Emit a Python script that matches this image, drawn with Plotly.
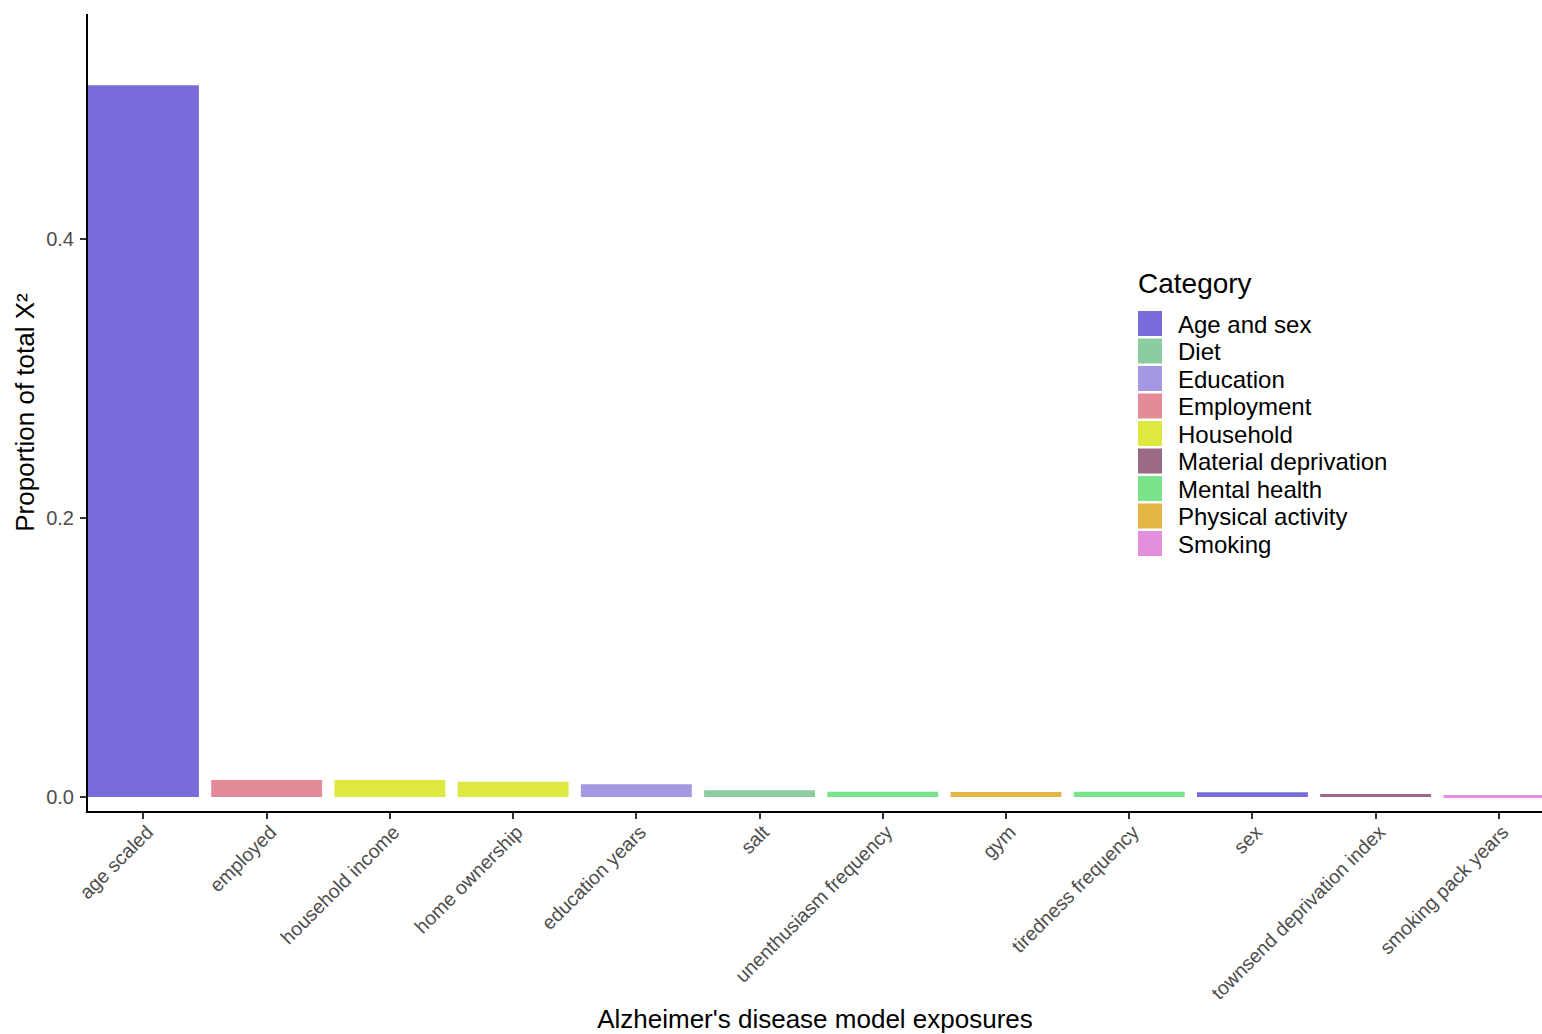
import plotly.graph_objects as go

# Exposures in plotted order with their proportion of total chi-square
exposures = [
    "age scaled", "employed", "household income", "home ownership",
    "education years", "salt", "unenthusiasm frequency", "gym",
    "tiredness frequency", "sex", "townsend deprivation index",
    "smoking pack years",
]
proportion = [
    0.510, 0.0122, 0.0122, 0.0110, 0.0091, 0.0048, 0.0038, 0.0037,
    0.0038, 0.0035, 0.0021, 0.0014,
]
exposure_category = [
    "Age and sex", "Employment", "Household", "Household", "Education",
    "Diet", "Mental health", "Physical activity", "Mental health",
    "Age and sex", "Material deprivation", "Smoking",
]

# Legend categories and fill colours
categories = [
    "Age and sex", "Diet", "Education", "Employment", "Household",
    "Material deprivation", "Mental health", "Physical activity", "Smoking",
]
category_colors = [
    "#776cd9", "#8ccca1", "#a398e1", "#e38b99", "#dde93e",
    "#9b6a84", "#7ae38b", "#e4b645", "#e58edc",
]
color_of = dict(zip(categories, category_colors))

y_ticks = [0.0, 0.2, 0.4]
y_tick_text = ["0.0", "0.2", "0.4"]

FONT = "Liberation Sans, Arial, sans-serif"

fig = go.Figure()
fig.add_trace(go.Bar(
    x=exposures,
    y=proportion,
    marker=dict(color=[color_of[c] for c in exposure_category], line=dict(width=0)),
    showlegend=False,
    hoverinfo="x+y",
))

# Page size and plotting-area margins (pixels)
W, H = 1542, 1034
ML, MR, MT, MB = 88, 0, 14, 223
pw, ph = W - ML - MR, H - MT - MB


def px_to_paper_x(px):
    return (px - ML) / pw


def px_to_paper_y(py):
    return (H - MB - py) / ph


# Hand-drawn legend (large square keys) placed inside the plotting area
leg_x0 = 1138
leg_top = 311
step = 27.5
shapes = []
annotations = [dict(
    text="Category", x=px_to_paper_x(1136), y=px_to_paper_y(284),
    xref="paper", yref="paper",
    showarrow=False, xanchor="left", yanchor="middle",
    font=dict(family=FONT, size=28, color="#000000"),
)]
for i, (cat, col) in enumerate(zip(categories, category_colors)):
    y0 = leg_top + i * step
    shapes.append(dict(
        type="rect", xref="paper", yref="paper",
        x0=px_to_paper_x(leg_x0), x1=px_to_paper_x(leg_x0 + 24),
        y0=px_to_paper_y(y0), y1=px_to_paper_y(y0 + 25),
        fillcolor=col, line=dict(width=0), layer="above",
    ))
    annotations.append(dict(
        text=cat, x=px_to_paper_x(1176), y=px_to_paper_y(y0 + 13),
        xref="paper", yref="paper",
        showarrow=False, xanchor="left", yanchor="middle",
        font=dict(family=FONT, size=24, color="#000000"),
    ))

fig.update_layout(
    width=W, height=H,
    margin=dict(l=ML, r=MR, t=MT, b=MB, autoexpand=False),
    paper_bgcolor="white", plot_bgcolor="white",
    bargap=0.1,
    font=dict(family=FONT),
    shapes=shapes,
    annotations=annotations,
    xaxis=dict(
        range=[-0.45, 11.35],
        tickangle=-45,
        tickfont=dict(family=FONT, size=19.5, color="#4d4d4d"),
        ticklabelstandoff=-6, ticklabelshift=4,
        ticks="outside", ticklen=6, tickwidth=1.6, tickcolor="#333333",
        showline=True, linecolor="#000000", linewidth=2,
        showgrid=False, zeroline=False,
        title=dict(text="Alzheimer's disease model exposures",
                   font=dict(family=FONT, size=26, color="#000000"),
                   standoff=10),
        automargin=False,
    ),
    yaxis=dict(
        range=[-0.0100, 0.561],
        tickvals=y_ticks, ticktext=y_tick_text,
        tickfont=dict(family=FONT, size=20, color="#4d4d4d"),
        ticklabelstandoff=2,
        ticks="outside", ticklen=6, tickwidth=1.6, tickcolor="#333333",
        showline=True, linecolor="#000000", linewidth=2,
        showgrid=False, zeroline=False,
        title=dict(text="Proportion of total Χ²",
                   font=dict(family=FONT, size=26, color="#000000"),
                   standoff=4),
        automargin=False,
    ),
)

fig.write_html("out.html")
